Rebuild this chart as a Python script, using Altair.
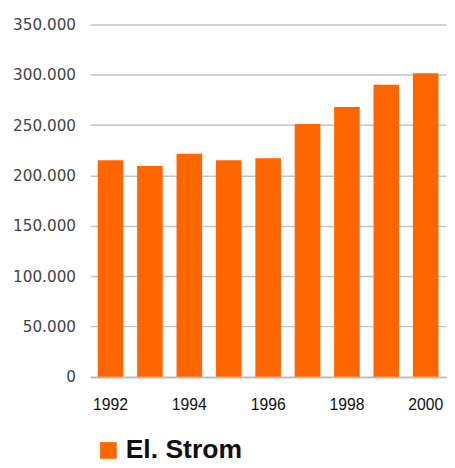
import altair as alt
import pandas as pd

years = ["1992", "1993", "1994", "1995", "1996", "1997", "1998", "1999", "2000"]
values = [215000, 209500, 221500, 215000, 217000, 251000, 268000, 290000, 301500]
series = "El. Strom"
shown_years = ["1992", "1994", "1996", "1998", "2000"]
y_ticks = [0, 50000, 100000, 150000, 200000, 250000, 300000, 350000]

df = pd.DataFrame({"year": years, "value": values, "series": [series] * len(years)})

chart = alt.Chart(df).mark_bar(color="#FF6600").encode(
    x=alt.X(
        "year:O",
        sort=years,
        scale=alt.Scale(paddingInner=0.35, paddingOuter=0.19),
        axis=alt.Axis(
            title=None,
            values=shown_years,
            labelAngle=0,
            ticks=False,
            labelPadding=20,
            labelFontSize=16,
            labelColor="#111111",
            labelFont="Liberation Sans",
            domainColor="#bbbbbb",
            domainWidth=1.5,
            grid=False,
        ),
    ),
    y=alt.Y(
        "value:Q",
        scale=alt.Scale(domain=[0, 350000], nice=False),
        axis=alt.Axis(
            title=None,
            values=y_ticks,
            labelExpr="replace(format(datum.value, ','), ',', '.')",
            ticks=False,
            domain=False,
            labelPadding=15,
            labelFontSize=15.5,
            labelColor="#444444",
            labelFont="DejaVu Sans",
            gridColor="#c4c4c4",
            gridWidth=1.5,
        ),
    ),
    color=alt.Color(
        "series:N",
        scale=alt.Scale(range=["#FF6600"]),
        legend=alt.Legend(
            title=None,
            orient="none",
            legendX=5,
            legendY=420,
            symbolType="square",
            symbolSize=289,
            symbolStrokeWidth=0,
            labelFontSize=27,
            labelFontWeight="bold",
            labelFont="Liberation Sans",
            labelColor="#111111",
            labelOffset=4,
            padding=0,
        ),
    ),
).properties(
    width=362,
    height=358.6,
    autosize=alt.AutoSizeParams(type="none"),
    padding={"left": 83.7, "top": 12.7, "right": 1, "bottom": 88},
).configure_view(stroke=None)

chart.save("out.html", embed_options={"renderer": "svg", "actions": False})
